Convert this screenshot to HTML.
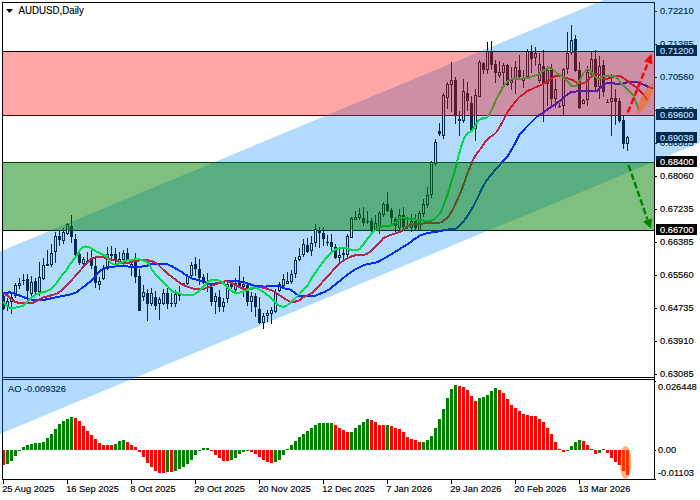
<!DOCTYPE html>
<html lang="en"><head><meta charset="utf-8"><title>AUDUSD Daily</title>
<style>html,body{margin:0;padding:0;background:#fff;}body{width:700px;height:500px;overflow:hidden;}svg{display:block;}text{font-family:"Liberation Sans", Arial, sans-serif;}</style>
</head><body>
<svg width="700" height="500" viewBox="0 0 700 500">
<rect x="0" y="0" width="700" height="500" fill="#fff"/>
<g shape-rendering="crispEdges" fill="#000">
<rect x="2" y="2" width="1" height="478"/>
<rect x="654" y="2" width="1" height="478"/>
<rect x="2" y="2" width="653" height="1"/>
<rect x="2" y="377" width="653" height="1"/>
<rect x="2" y="379" width="653" height="1"/>
<rect x="2" y="479" width="653" height="1"/>
<rect x="2" y="51" width="652" height="1"/>
<rect x="2" y="115" width="652" height="1"/>
<rect x="2" y="162" width="652" height="1"/>
<rect x="2" y="230" width="652" height="1"/>
<rect x="655" y="11" width="2" height="1"/>
<rect x="655" y="44" width="2" height="1"/>
<rect x="655" y="77" width="2" height="1"/>
<rect x="655" y="110" width="2" height="1"/>
<rect x="655" y="143" width="2" height="1"/>
<rect x="655" y="176" width="2" height="1"/>
<rect x="655" y="209" width="2" height="1"/>
<rect x="655" y="242" width="2" height="1"/>
<rect x="655" y="275" width="2" height="1"/>
<rect x="655" y="308" width="2" height="1"/>
<rect x="655" y="341" width="2" height="1"/>
<rect x="655" y="374" width="2" height="1"/>
<rect x="655" y="381" width="1" height="1"/>
<rect x="655" y="450" width="1" height="1"/>
<rect x="655" y="479" width="1" height="1"/>
<rect x="3" y="480" width="1" height="4"/>
<rect x="67" y="480" width="1" height="4"/>
<rect x="131" y="480" width="1" height="4"/>
<rect x="195" y="480" width="1" height="4"/>
<rect x="259" y="480" width="1" height="4"/>
<rect x="323" y="480" width="1" height="4"/>
<rect x="387" y="480" width="1" height="4"/>
<rect x="451" y="480" width="1" height="4"/>
<rect x="515" y="480" width="1" height="4"/>
<rect x="579" y="480" width="1" height="4"/>
</g>
<g shape-rendering="crispEdges">
<rect x="3" y="295" width="1" height="15" fill="#000"/>
<rect x="2" y="296" width="3" height="13" fill="#000"/>
<rect x="7" y="298" width="1" height="13" fill="#000"/>
<rect x="6" y="301" width="3" height="6" fill="#000"/>
<rect x="7" y="302" width="1" height="4" fill="#fff"/>
<rect x="11" y="294" width="1" height="20" fill="#000"/>
<rect x="10" y="297" width="3" height="5" fill="#000"/>
<rect x="11" y="298" width="1" height="3" fill="#fff"/>
<rect x="15" y="283" width="1" height="15" fill="#000"/>
<rect x="14" y="285" width="3" height="11" fill="#000"/>
<rect x="15" y="286" width="1" height="9" fill="#fff"/>
<rect x="19" y="278" width="1" height="11" fill="#000"/>
<rect x="18" y="283" width="3" height="3" fill="#000"/>
<rect x="19" y="284" width="1" height="1" fill="#fff"/>
<rect x="23" y="274" width="1" height="11" fill="#000"/>
<rect x="22" y="280" width="3" height="1" fill="#000"/>
<rect x="27" y="274" width="1" height="24" fill="#000"/>
<rect x="26" y="279" width="3" height="12" fill="#000"/>
<rect x="31" y="276" width="1" height="22" fill="#000"/>
<rect x="30" y="282" width="3" height="12" fill="#000"/>
<rect x="31" y="283" width="1" height="10" fill="#fff"/>
<rect x="35" y="278" width="1" height="16" fill="#000"/>
<rect x="34" y="281" width="3" height="11" fill="#000"/>
<rect x="39" y="262" width="1" height="34" fill="#000"/>
<rect x="38" y="277" width="3" height="15" fill="#000"/>
<rect x="39" y="278" width="1" height="13" fill="#fff"/>
<rect x="43" y="258" width="1" height="22" fill="#000"/>
<rect x="42" y="265" width="3" height="14" fill="#000"/>
<rect x="43" y="266" width="1" height="12" fill="#fff"/>
<rect x="47" y="250" width="1" height="16" fill="#000"/>
<rect x="46" y="264" width="3" height="2" fill="#000"/>
<rect x="51" y="244" width="1" height="23" fill="#000"/>
<rect x="50" y="253" width="3" height="12" fill="#000"/>
<rect x="51" y="254" width="1" height="10" fill="#fff"/>
<rect x="55" y="232" width="1" height="31" fill="#000"/>
<rect x="54" y="236" width="3" height="16" fill="#000"/>
<rect x="55" y="237" width="1" height="14" fill="#fff"/>
<rect x="59" y="231" width="1" height="15" fill="#000"/>
<rect x="58" y="236" width="3" height="4" fill="#000"/>
<rect x="63" y="228" width="1" height="16" fill="#000"/>
<rect x="62" y="232" width="3" height="9" fill="#000"/>
<rect x="63" y="233" width="1" height="7" fill="#fff"/>
<rect x="67" y="223" width="1" height="12" fill="#000"/>
<rect x="66" y="224" width="3" height="10" fill="#000"/>
<rect x="67" y="225" width="1" height="8" fill="#fff"/>
<rect x="71" y="215" width="1" height="28" fill="#000"/>
<rect x="70" y="226" width="3" height="11" fill="#000"/>
<rect x="75" y="234" width="1" height="22" fill="#000"/>
<rect x="74" y="239" width="3" height="16" fill="#000"/>
<rect x="79" y="250" width="1" height="15" fill="#000"/>
<rect x="78" y="254" width="3" height="9" fill="#000"/>
<rect x="83" y="257" width="1" height="9" fill="#000"/>
<rect x="82" y="259" width="3" height="5" fill="#000"/>
<rect x="83" y="260" width="1" height="3" fill="#fff"/>
<rect x="87" y="252" width="1" height="12" fill="#000"/>
<rect x="86" y="261" width="3" height="1" fill="#000"/>
<rect x="91" y="247" width="1" height="22" fill="#000"/>
<rect x="90" y="259" width="3" height="7" fill="#000"/>
<rect x="95" y="258" width="1" height="30" fill="#000"/>
<rect x="94" y="266" width="3" height="17" fill="#000"/>
<rect x="99" y="277" width="1" height="13" fill="#000"/>
<rect x="98" y="281" width="3" height="4" fill="#000"/>
<rect x="99" y="282" width="1" height="2" fill="#fff"/>
<rect x="103" y="265" width="1" height="15" fill="#000"/>
<rect x="102" y="269" width="3" height="10" fill="#000"/>
<rect x="103" y="270" width="1" height="8" fill="#fff"/>
<rect x="107" y="247" width="1" height="23" fill="#000"/>
<rect x="106" y="254" width="3" height="15" fill="#000"/>
<rect x="107" y="255" width="1" height="13" fill="#fff"/>
<rect x="111" y="246" width="1" height="15" fill="#000"/>
<rect x="110" y="254" width="3" height="2" fill="#000"/>
<rect x="115" y="248" width="1" height="16" fill="#000"/>
<rect x="114" y="254" width="3" height="6" fill="#000"/>
<rect x="119" y="252" width="1" height="12" fill="#000"/>
<rect x="118" y="259" width="3" height="5" fill="#000"/>
<rect x="119" y="260" width="1" height="3" fill="#fff"/>
<rect x="123" y="250" width="1" height="11" fill="#000"/>
<rect x="122" y="253" width="3" height="7" fill="#000"/>
<rect x="123" y="254" width="1" height="5" fill="#fff"/>
<rect x="127" y="248" width="1" height="13" fill="#000"/>
<rect x="126" y="253" width="3" height="7" fill="#000"/>
<rect x="131" y="262" width="1" height="14" fill="#000"/>
<rect x="130" y="264" width="3" height="3" fill="#000"/>
<rect x="131" y="265" width="1" height="1" fill="#fff"/>
<rect x="135" y="253" width="1" height="30" fill="#000"/>
<rect x="134" y="262" width="3" height="15" fill="#000"/>
<rect x="139" y="269" width="1" height="42" fill="#000"/>
<rect x="138" y="276" width="3" height="35" fill="#000"/>
<rect x="143" y="285" width="1" height="16" fill="#000"/>
<rect x="142" y="292" width="3" height="5" fill="#000"/>
<rect x="143" y="293" width="1" height="3" fill="#fff"/>
<rect x="147" y="289" width="1" height="32" fill="#000"/>
<rect x="146" y="293" width="3" height="11" fill="#000"/>
<rect x="151" y="288" width="1" height="18" fill="#000"/>
<rect x="150" y="293" width="3" height="11" fill="#000"/>
<rect x="151" y="294" width="1" height="9" fill="#fff"/>
<rect x="155" y="291" width="1" height="19" fill="#000"/>
<rect x="154" y="297" width="3" height="9" fill="#000"/>
<rect x="159" y="297" width="1" height="23" fill="#000"/>
<rect x="158" y="299" width="3" height="5" fill="#000"/>
<rect x="159" y="300" width="1" height="3" fill="#fff"/>
<rect x="163" y="289" width="1" height="16" fill="#000"/>
<rect x="162" y="293" width="3" height="11" fill="#000"/>
<rect x="163" y="294" width="1" height="9" fill="#fff"/>
<rect x="167" y="288" width="1" height="21" fill="#000"/>
<rect x="166" y="293" width="3" height="11" fill="#000"/>
<rect x="171" y="293" width="1" height="14" fill="#000"/>
<rect x="170" y="303" width="3" height="1" fill="#000"/>
<rect x="175" y="290" width="1" height="17" fill="#000"/>
<rect x="174" y="294" width="3" height="10" fill="#000"/>
<rect x="175" y="295" width="1" height="8" fill="#fff"/>
<rect x="179" y="286" width="1" height="15" fill="#000"/>
<rect x="178" y="294" width="3" height="2" fill="#000"/>
<rect x="183" y="283" width="1" height="2" fill="#000"/>
<rect x="182" y="283" width="3" height="2" fill="#000"/>
<rect x="187" y="274" width="1" height="11" fill="#000"/>
<rect x="186" y="276" width="3" height="8" fill="#000"/>
<rect x="187" y="277" width="1" height="6" fill="#fff"/>
<rect x="191" y="262" width="1" height="15" fill="#000"/>
<rect x="190" y="265" width="3" height="11" fill="#000"/>
<rect x="191" y="266" width="1" height="9" fill="#fff"/>
<rect x="195" y="257" width="1" height="19" fill="#000"/>
<rect x="194" y="264" width="3" height="5" fill="#000"/>
<rect x="199" y="259" width="1" height="26" fill="#000"/>
<rect x="198" y="269" width="3" height="9" fill="#000"/>
<rect x="203" y="274" width="1" height="10" fill="#000"/>
<rect x="202" y="277" width="3" height="5" fill="#000"/>
<rect x="207" y="273" width="1" height="19" fill="#000"/>
<rect x="206" y="283" width="3" height="1" fill="#000"/>
<rect x="211" y="283" width="1" height="23" fill="#000"/>
<rect x="210" y="287" width="3" height="15" fill="#000"/>
<rect x="215" y="293" width="1" height="21" fill="#000"/>
<rect x="214" y="296" width="3" height="6" fill="#000"/>
<rect x="215" y="297" width="1" height="4" fill="#fff"/>
<rect x="219" y="290" width="1" height="22" fill="#000"/>
<rect x="218" y="297" width="3" height="10" fill="#000"/>
<rect x="223" y="298" width="1" height="14" fill="#000"/>
<rect x="222" y="302" width="3" height="5" fill="#000"/>
<rect x="223" y="303" width="1" height="3" fill="#fff"/>
<rect x="227" y="282" width="1" height="21" fill="#000"/>
<rect x="226" y="284" width="3" height="15" fill="#000"/>
<rect x="227" y="285" width="1" height="13" fill="#fff"/>
<rect x="231" y="281" width="1" height="8" fill="#000"/>
<rect x="230" y="284" width="3" height="3" fill="#000"/>
<rect x="235" y="278" width="1" height="14" fill="#000"/>
<rect x="234" y="283" width="3" height="7" fill="#000"/>
<rect x="235" y="284" width="1" height="5" fill="#fff"/>
<rect x="239" y="266" width="1" height="21" fill="#000"/>
<rect x="238" y="281" width="3" height="6" fill="#000"/>
<rect x="243" y="277" width="1" height="20" fill="#000"/>
<rect x="242" y="284" width="3" height="3" fill="#000"/>
<rect x="243" y="285" width="1" height="1" fill="#fff"/>
<rect x="247" y="284" width="1" height="22" fill="#000"/>
<rect x="246" y="285" width="3" height="17" fill="#000"/>
<rect x="251" y="292" width="1" height="20" fill="#000"/>
<rect x="250" y="296" width="3" height="6" fill="#000"/>
<rect x="251" y="297" width="1" height="4" fill="#fff"/>
<rect x="255" y="293" width="1" height="24" fill="#000"/>
<rect x="254" y="296" width="3" height="11" fill="#000"/>
<rect x="259" y="297" width="1" height="27" fill="#000"/>
<rect x="258" y="309" width="3" height="14" fill="#000"/>
<rect x="263" y="313" width="1" height="16" fill="#000"/>
<rect x="262" y="316" width="3" height="7" fill="#000"/>
<rect x="263" y="317" width="1" height="5" fill="#fff"/>
<rect x="267" y="310" width="1" height="12" fill="#000"/>
<rect x="266" y="313" width="3" height="3" fill="#000"/>
<rect x="267" y="314" width="1" height="1" fill="#fff"/>
<rect x="271" y="307" width="1" height="17" fill="#000"/>
<rect x="270" y="310" width="3" height="4" fill="#000"/>
<rect x="271" y="311" width="1" height="2" fill="#fff"/>
<rect x="275" y="289" width="1" height="24" fill="#000"/>
<rect x="274" y="292" width="3" height="20" fill="#000"/>
<rect x="275" y="293" width="1" height="18" fill="#fff"/>
<rect x="279" y="282" width="1" height="10" fill="#000"/>
<rect x="278" y="284" width="3" height="7" fill="#000"/>
<rect x="279" y="285" width="1" height="5" fill="#fff"/>
<rect x="283" y="274" width="1" height="13" fill="#000"/>
<rect x="282" y="279" width="3" height="7" fill="#000"/>
<rect x="283" y="280" width="1" height="5" fill="#fff"/>
<rect x="287" y="272" width="1" height="12" fill="#000"/>
<rect x="286" y="281" width="3" height="3" fill="#000"/>
<rect x="287" y="282" width="1" height="1" fill="#fff"/>
<rect x="291" y="270" width="1" height="14" fill="#000"/>
<rect x="290" y="274" width="3" height="8" fill="#000"/>
<rect x="291" y="275" width="1" height="6" fill="#fff"/>
<rect x="295" y="257" width="1" height="21" fill="#000"/>
<rect x="294" y="260" width="3" height="14" fill="#000"/>
<rect x="295" y="261" width="1" height="12" fill="#fff"/>
<rect x="299" y="248" width="1" height="13" fill="#000"/>
<rect x="298" y="256" width="3" height="4" fill="#000"/>
<rect x="299" y="257" width="1" height="2" fill="#fff"/>
<rect x="303" y="239" width="1" height="18" fill="#000"/>
<rect x="302" y="244" width="3" height="11" fill="#000"/>
<rect x="303" y="245" width="1" height="9" fill="#fff"/>
<rect x="307" y="238" width="1" height="15" fill="#000"/>
<rect x="306" y="245" width="3" height="7" fill="#000"/>
<rect x="311" y="236" width="1" height="20" fill="#000"/>
<rect x="310" y="243" width="3" height="8" fill="#000"/>
<rect x="311" y="244" width="1" height="6" fill="#fff"/>
<rect x="315" y="224" width="1" height="23" fill="#000"/>
<rect x="314" y="229" width="3" height="14" fill="#000"/>
<rect x="315" y="230" width="1" height="12" fill="#fff"/>
<rect x="319" y="227" width="1" height="21" fill="#000"/>
<rect x="318" y="230" width="3" height="3" fill="#000"/>
<rect x="323" y="227" width="1" height="19" fill="#000"/>
<rect x="322" y="233" width="3" height="6" fill="#000"/>
<rect x="327" y="235" width="1" height="11" fill="#000"/>
<rect x="326" y="242" width="3" height="1" fill="#000"/>
<rect x="331" y="234" width="1" height="18" fill="#000"/>
<rect x="330" y="242" width="3" height="5" fill="#000"/>
<rect x="335" y="244" width="1" height="15" fill="#000"/>
<rect x="334" y="247" width="3" height="11" fill="#000"/>
<rect x="339" y="247" width="1" height="15" fill="#000"/>
<rect x="338" y="255" width="3" height="3" fill="#000"/>
<rect x="339" y="256" width="1" height="1" fill="#fff"/>
<rect x="343" y="249" width="1" height="10" fill="#000"/>
<rect x="342" y="253" width="3" height="2" fill="#000"/>
<rect x="347" y="234" width="1" height="23" fill="#000"/>
<rect x="346" y="236" width="3" height="19" fill="#000"/>
<rect x="347" y="237" width="1" height="17" fill="#fff"/>
<rect x="351" y="217" width="1" height="21" fill="#000"/>
<rect x="350" y="218" width="3" height="20" fill="#000"/>
<rect x="351" y="219" width="1" height="18" fill="#fff"/>
<rect x="355" y="211" width="1" height="9" fill="#000"/>
<rect x="354" y="217" width="3" height="3" fill="#000"/>
<rect x="355" y="218" width="1" height="1" fill="#fff"/>
<rect x="359" y="208" width="1" height="12" fill="#000"/>
<rect x="358" y="214" width="3" height="4" fill="#000"/>
<rect x="359" y="215" width="1" height="2" fill="#fff"/>
<rect x="363" y="207" width="1" height="19" fill="#000"/>
<rect x="362" y="218" width="3" height="5" fill="#000"/>
<rect x="367" y="211" width="1" height="13" fill="#000"/>
<rect x="366" y="221" width="3" height="1" fill="#000"/>
<rect x="371" y="218" width="1" height="15" fill="#000"/>
<rect x="370" y="221" width="3" height="9" fill="#000"/>
<rect x="375" y="215" width="1" height="16" fill="#000"/>
<rect x="374" y="223" width="3" height="7" fill="#000"/>
<rect x="375" y="224" width="1" height="5" fill="#fff"/>
<rect x="379" y="211" width="1" height="23" fill="#000"/>
<rect x="378" y="213" width="3" height="14" fill="#000"/>
<rect x="379" y="214" width="1" height="12" fill="#fff"/>
<rect x="383" y="202" width="1" height="15" fill="#000"/>
<rect x="382" y="204" width="3" height="11" fill="#000"/>
<rect x="383" y="205" width="1" height="9" fill="#fff"/>
<rect x="387" y="192" width="1" height="20" fill="#000"/>
<rect x="386" y="204" width="3" height="7" fill="#000"/>
<rect x="391" y="208" width="1" height="16" fill="#000"/>
<rect x="390" y="210" width="3" height="8" fill="#000"/>
<rect x="395" y="217" width="1" height="16" fill="#000"/>
<rect x="394" y="219" width="3" height="7" fill="#000"/>
<rect x="399" y="209" width="1" height="22" fill="#000"/>
<rect x="398" y="215" width="3" height="13" fill="#000"/>
<rect x="399" y="216" width="1" height="11" fill="#fff"/>
<rect x="403" y="207" width="1" height="24" fill="#000"/>
<rect x="402" y="215" width="3" height="12" fill="#000"/>
<rect x="407" y="217" width="1" height="12" fill="#000"/>
<rect x="406" y="219" width="3" height="1" fill="#000"/>
<rect x="411" y="214" width="1" height="18" fill="#000"/>
<rect x="410" y="221" width="3" height="7" fill="#000"/>
<rect x="411" y="222" width="1" height="5" fill="#fff"/>
<rect x="415" y="214" width="1" height="17" fill="#000"/>
<rect x="414" y="221" width="3" height="7" fill="#000"/>
<rect x="419" y="211" width="1" height="20" fill="#000"/>
<rect x="418" y="213" width="3" height="18" fill="#000"/>
<rect x="419" y="214" width="1" height="16" fill="#fff"/>
<rect x="423" y="199" width="1" height="18" fill="#000"/>
<rect x="422" y="204" width="3" height="10" fill="#000"/>
<rect x="423" y="205" width="1" height="8" fill="#fff"/>
<rect x="427" y="187" width="1" height="21" fill="#000"/>
<rect x="426" y="195" width="3" height="10" fill="#000"/>
<rect x="427" y="196" width="1" height="8" fill="#fff"/>
<rect x="431" y="161" width="1" height="37" fill="#000"/>
<rect x="430" y="162" width="3" height="33" fill="#000"/>
<rect x="431" y="163" width="1" height="31" fill="#fff"/>
<rect x="435" y="139" width="1" height="27" fill="#000"/>
<rect x="434" y="142" width="3" height="22" fill="#000"/>
<rect x="435" y="143" width="1" height="20" fill="#fff"/>
<rect x="439" y="123" width="1" height="13" fill="#000"/>
<rect x="438" y="131" width="3" height="3" fill="#000"/>
<rect x="443" y="93" width="1" height="46" fill="#000"/>
<rect x="442" y="95" width="3" height="41" fill="#000"/>
<rect x="443" y="96" width="1" height="39" fill="#fff"/>
<rect x="447" y="82" width="1" height="27" fill="#000"/>
<rect x="446" y="84" width="3" height="14" fill="#000"/>
<rect x="447" y="85" width="1" height="12" fill="#fff"/>
<rect x="451" y="62" width="1" height="50" fill="#000"/>
<rect x="450" y="80" width="3" height="5" fill="#000"/>
<rect x="451" y="81" width="1" height="3" fill="#fff"/>
<rect x="455" y="77" width="1" height="47" fill="#000"/>
<rect x="454" y="80" width="3" height="36" fill="#000"/>
<rect x="459" y="111" width="1" height="25" fill="#000"/>
<rect x="458" y="119" width="3" height="2" fill="#000"/>
<rect x="463" y="79" width="1" height="44" fill="#000"/>
<rect x="462" y="91" width="3" height="30" fill="#000"/>
<rect x="463" y="92" width="1" height="28" fill="#fff"/>
<rect x="467" y="82" width="1" height="29" fill="#000"/>
<rect x="466" y="93" width="3" height="8" fill="#000"/>
<rect x="471" y="96" width="1" height="35" fill="#000"/>
<rect x="470" y="103" width="3" height="27" fill="#000"/>
<rect x="475" y="89" width="1" height="52" fill="#000"/>
<rect x="474" y="95" width="3" height="34" fill="#000"/>
<rect x="475" y="96" width="1" height="32" fill="#fff"/>
<rect x="479" y="60" width="1" height="37" fill="#000"/>
<rect x="478" y="62" width="3" height="35" fill="#000"/>
<rect x="479" y="63" width="1" height="33" fill="#fff"/>
<rect x="483" y="62" width="1" height="12" fill="#000"/>
<rect x="482" y="63" width="3" height="7" fill="#000"/>
<rect x="487" y="42" width="1" height="32" fill="#000"/>
<rect x="486" y="51" width="3" height="19" fill="#000"/>
<rect x="487" y="52" width="1" height="17" fill="#fff"/>
<rect x="491" y="41" width="1" height="29" fill="#000"/>
<rect x="490" y="51" width="3" height="14" fill="#000"/>
<rect x="495" y="60" width="1" height="23" fill="#000"/>
<rect x="494" y="64" width="3" height="9" fill="#000"/>
<rect x="499" y="61" width="1" height="17" fill="#000"/>
<rect x="498" y="72" width="3" height="4" fill="#000"/>
<rect x="499" y="73" width="1" height="2" fill="#fff"/>
<rect x="503" y="63" width="1" height="25" fill="#000"/>
<rect x="502" y="65" width="3" height="8" fill="#000"/>
<rect x="503" y="66" width="1" height="6" fill="#fff"/>
<rect x="507" y="64" width="1" height="22" fill="#000"/>
<rect x="506" y="65" width="3" height="20" fill="#000"/>
<rect x="511" y="67" width="1" height="23" fill="#000"/>
<rect x="510" y="80" width="3" height="3" fill="#000"/>
<rect x="511" y="81" width="1" height="1" fill="#fff"/>
<rect x="515" y="61" width="1" height="33" fill="#000"/>
<rect x="514" y="67" width="3" height="12" fill="#000"/>
<rect x="515" y="68" width="1" height="10" fill="#fff"/>
<rect x="519" y="55" width="1" height="24" fill="#000"/>
<rect x="518" y="70" width="3" height="7" fill="#000"/>
<rect x="523" y="70" width="1" height="18" fill="#000"/>
<rect x="522" y="78" width="3" height="3" fill="#000"/>
<rect x="523" y="79" width="1" height="1" fill="#fff"/>
<rect x="527" y="49" width="1" height="29" fill="#000"/>
<rect x="526" y="51" width="3" height="26" fill="#000"/>
<rect x="527" y="52" width="1" height="24" fill="#fff"/>
<rect x="531" y="45" width="1" height="28" fill="#000"/>
<rect x="530" y="51" width="3" height="8" fill="#000"/>
<rect x="535" y="47" width="1" height="19" fill="#000"/>
<rect x="534" y="53" width="3" height="5" fill="#000"/>
<rect x="535" y="54" width="1" height="3" fill="#fff"/>
<rect x="539" y="53" width="1" height="30" fill="#000"/>
<rect x="538" y="64" width="3" height="17" fill="#000"/>
<rect x="539" y="65" width="1" height="15" fill="#fff"/>
<rect x="543" y="50" width="1" height="72" fill="#000"/>
<rect x="542" y="66" width="3" height="17" fill="#000"/>
<rect x="547" y="66" width="1" height="40" fill="#000"/>
<rect x="546" y="70" width="3" height="14" fill="#000"/>
<rect x="547" y="71" width="1" height="12" fill="#fff"/>
<rect x="551" y="64" width="1" height="44" fill="#000"/>
<rect x="550" y="70" width="3" height="29" fill="#000"/>
<rect x="555" y="79" width="1" height="29" fill="#000"/>
<rect x="554" y="89" width="3" height="10" fill="#000"/>
<rect x="555" y="90" width="1" height="8" fill="#fff"/>
<rect x="559" y="103" width="1" height="5" fill="#000"/>
<rect x="558" y="106" width="3" height="1" fill="#000"/>
<rect x="563" y="68" width="1" height="48" fill="#000"/>
<rect x="562" y="69" width="3" height="37" fill="#000"/>
<rect x="563" y="70" width="1" height="35" fill="#fff"/>
<rect x="567" y="32" width="1" height="42" fill="#000"/>
<rect x="566" y="53" width="3" height="16" fill="#000"/>
<rect x="567" y="54" width="1" height="14" fill="#fff"/>
<rect x="571" y="25" width="1" height="30" fill="#000"/>
<rect x="570" y="40" width="3" height="13" fill="#000"/>
<rect x="571" y="41" width="1" height="11" fill="#fff"/>
<rect x="575" y="35" width="1" height="37" fill="#000"/>
<rect x="574" y="39" width="3" height="32" fill="#000"/>
<rect x="579" y="62" width="1" height="47" fill="#000"/>
<rect x="578" y="70" width="3" height="38" fill="#000"/>
<rect x="583" y="99" width="1" height="5" fill="#000"/>
<rect x="582" y="100" width="3" height="4" fill="#000"/>
<rect x="583" y="101" width="1" height="2" fill="#fff"/>
<rect x="587" y="66" width="1" height="40" fill="#000"/>
<rect x="586" y="72" width="3" height="28" fill="#000"/>
<rect x="587" y="73" width="1" height="26" fill="#fff"/>
<rect x="591" y="52" width="1" height="23" fill="#000"/>
<rect x="590" y="59" width="3" height="15" fill="#000"/>
<rect x="591" y="60" width="1" height="13" fill="#fff"/>
<rect x="595" y="50" width="1" height="41" fill="#000"/>
<rect x="594" y="59" width="3" height="28" fill="#000"/>
<rect x="599" y="56" width="1" height="43" fill="#000"/>
<rect x="598" y="66" width="3" height="21" fill="#000"/>
<rect x="599" y="67" width="1" height="19" fill="#fff"/>
<rect x="603" y="60" width="1" height="37" fill="#000"/>
<rect x="602" y="65" width="3" height="27" fill="#000"/>
<rect x="607" y="99" width="1" height="3" fill="#000"/>
<rect x="606" y="102" width="3" height="1" fill="#000"/>
<rect x="611" y="74" width="1" height="62" fill="#000"/>
<rect x="610" y="98" width="3" height="4" fill="#000"/>
<rect x="611" y="99" width="1" height="2" fill="#fff"/>
<rect x="615" y="89" width="1" height="36" fill="#000"/>
<rect x="614" y="98" width="3" height="4" fill="#000"/>
<rect x="619" y="98" width="1" height="25" fill="#000"/>
<rect x="618" y="101" width="3" height="20" fill="#000"/>
<rect x="623" y="116" width="1" height="33" fill="#000"/>
<rect x="622" y="120" width="3" height="24" fill="#000"/>
<rect x="627" y="136" width="1" height="15" fill="#000"/>
<rect x="626" y="137" width="3" height="7" fill="#000"/>
<rect x="627" y="138" width="1" height="5" fill="#fff"/>
</g>
<g clip-path="url(#cpm)" shape-rendering="crispEdges">
<clipPath id="cpm"><rect x="3" y="3" width="651" height="374"/></clipPath>
<polyline points="3.0,292.9 10.0,292.4 14.0,293.3 20.0,295.7 27.0,298.6 33.0,300.0 43.0,300.0 50.0,298.6 57.0,297.1 64.0,295.7 71.0,294.3 76.0,292.6 81.0,288.6 86.0,285.0 93.0,279.3 97.0,274.5 99.3,271.4 103.6,268.6 107.9,267.1 116.4,266.4 123.6,265.7 129.3,266.7 137.9,266.7 145.0,266.4 150.7,264.3 157.9,263.6 166.4,263.9 172.1,266.4 180.7,271.4 187.9,276.4 192.1,278.5 195.7,279.4 202.9,281.6 208.6,283.7 214.3,283.7 221.4,282.6 227.1,280.9 235.7,280.9 244.3,282.3 250.0,284.4 255.7,285.9 264.3,286.6 271.4,286.3 277.1,286.0 280.0,286.5 285.0,288.5 290.0,289.5 293.0,291.5 296.0,294.0 299.0,295.8 305.0,296.0 315.0,296.0 319.0,294.0 324.0,292.2 329.0,289.5 334.0,285.5 339.0,281.5 345.0,276.6 350.7,272.3 356.4,268.7 362.1,265.9 367.9,264.0 373.6,263.0 377.9,262.0 382.1,259.4 385.0,258.0 395.0,252.0 409.3,243.0 414.3,239.1 420.0,235.6 425.7,233.6 431.4,232.4 437.1,231.6 444.0,230.2 451.0,228.9 456.0,228.5 459.0,226.4 462.0,223.3 465.0,219.5 470.0,212.0 474.0,205.0 478.0,197.0 482.0,188.5 486.0,181.0 492.1,173.6 497.9,167.1 502.1,162.1 507.9,155.7 512.1,148.6 515.0,143.6 520.0,133.6 525.7,127.9 531.4,122.1 537.1,116.4 542.9,112.9 548.6,108.6 554.3,105.0 560.0,100.7 565.7,95.7 571.4,92.1 577.1,91.4 582.9,90.7 588.6,91.4 597.1,91.2 601.0,87.5 606.0,83.5 611.0,82.5 616.0,84.0 621.0,84.5 625.0,83.0 630.0,81.5 638.0,82.5 643.0,84.5 650.0,87.5 653.0,88.2" fill="none" stroke="#0000ff" stroke-width="2" stroke-linejoin="round" stroke-linecap="butt"/>
<polyline points="3.0,293.6 7.0,295.0 11.0,298.6 15.0,302.1 20.0,302.9 27.0,302.9 33.0,302.9 37.0,300.7 43.0,297.6 50.0,295.7 57.0,293.6 62.0,290.0 67.0,285.0 71.0,280.7 77.0,274.3 83.0,267.1 88.0,262.1 92.0,257.8 100.0,257.0 102.1,257.1 109.3,258.6 116.4,260.7 123.6,263.6 128.0,262.9 133.6,261.4 139.3,260.4 145.0,259.6 152.1,261.4 156.4,262.9 162.1,268.6 169.3,275.0 175.0,279.3 180.7,283.6 186.4,286.4 192.1,288.3 195.7,289.1 201.4,289.4 207.1,288.0 212.9,285.1 218.6,283.4 225.7,281.1 231.4,283.0 237.1,285.9 242.9,288.7 248.6,289.7 254.3,288.0 261.4,287.3 267.1,288.7 272.9,290.9 275.0,292.0 280.0,295.5 285.0,299.0 290.0,301.5 294.0,302.0 299.0,300.5 303.0,297.5 308.0,295.0 312.0,293.0 317.0,288.0 322.0,282.5 327.0,277.0 332.0,271.5 337.0,266.0 343.6,260.1 349.3,257.3 355.0,255.4 360.7,254.9 365.7,254.4 370.7,251.6 376.4,245.9 380.7,241.6 382.9,238.4 388.6,235.6 394.3,233.7 400.0,232.0 404.3,229.1 408.6,225.6 412.9,224.1 420.0,224.1 425.7,223.1 432.9,222.7 441.0,222.5 445.0,219.5 449.0,216.0 453.0,209.0 457.0,200.5 461.0,191.5 464.5,182.0 467.1,174.3 470.0,167.1 472.9,160.0 476.4,154.3 480.7,148.6 485.0,142.1 488.6,137.9 493.6,135.0 497.1,131.4 500.7,125.0 504.3,118.6 507.9,111.4 515.7,101.0 520.0,96.4 524.3,93.6 527.1,91.2 534.3,87.9 541.4,85.0 548.6,80.7 555.7,75.7 561.4,76.4 567.1,78.3 572.9,80.0 577.1,82.9 582.9,83.6 587.1,81.4 590.0,77.5 594.0,74.0 599.0,74.5 603.0,78.5 608.0,78.5 613.0,77.0 617.0,75.5 622.0,77.0 627.0,80.5 632.0,84.5 638.0,88.5 643.0,94.0 647.5,100.5" fill="none" stroke="#ff0000" stroke-width="2" stroke-linejoin="round" stroke-linecap="butt"/>
<polyline points="3.0,301.4 6.0,305.0 10.0,307.9 14.0,307.9 19.0,306.7 23.0,305.7 27.0,302.1 31.0,297.9 35.0,295.0 40.0,292.9 46.0,291.4 51.0,289.3 56.0,283.6 60.0,277.9 66.0,270.7 71.0,262.9 77.0,255.3 80.0,250.0 83.0,247.1 86.0,246.4 90.0,247.6 95.0,251.0 100.7,253.6 106.4,256.4 110.7,262.9 115.0,265.0 120.0,262.9 125.0,260.7 130.7,260.0 137.9,258.9 143.6,260.7 148.6,262.9 152.1,270.0 157.9,277.1 163.6,282.9 167.9,286.4 172.1,291.4 177.9,292.9 183.6,295.0 190.0,295.1 194.3,294.4 198.6,291.6 202.9,287.3 207.1,282.3 211.4,280.1 217.1,279.7 221.4,281.6 225.7,285.9 230.0,290.1 235.7,293.0 241.4,292.3 247.1,290.1 252.9,287.3 257.1,288.3 262.9,291.6 268.6,295.9 274.3,301.6 279.0,305.5 283.0,306.8 286.0,306.2 290.0,303.0 295.0,298.5 300.0,293.5 305.0,288.0 308.0,285.0 311.0,279.0 315.0,273.0 320.0,265.9 325.0,259.4 330.0,253.7 335.0,249.7 340.0,247.7 345.0,247.7 350.0,249.7 355.0,250.0 359.3,249.4 362.9,245.1 367.9,238.0 372.9,232.3 377.9,227.7 382.9,226.3 390.0,226.0 394.3,223.4 398.6,219.1 402.1,217.7 407.1,218.9 414.3,219.4 420.0,219.9 425.7,220.9 431.4,220.6 434.0,219.5 440.0,213.5 443.0,207.0 446.0,199.0 449.0,190.0 451.5,181.0 454.3,172.9 456.4,165.0 457.9,158.6 460.0,150.7 462.1,143.6 464.3,137.9 467.1,133.6 472.1,130.7 475.0,125.7 478.6,120.3 482.1,118.6 487.1,117.4 489.0,115.2 492.0,109.0 495.0,102.3 498.6,95.0 502.9,87.0 507.1,81.6 511.4,79.3 518.6,79.3 524.3,77.9 528.6,77.9 534.3,75.7 538.6,74.3 542.9,70.7 548.6,67.9 552.9,69.3 557.1,73.6 562.9,77.1 567.1,81.4 571.4,85.7 576.4,85.7 580.0,80.0 583.6,72.9 587.1,69.3 590.0,70.0 594.0,76.0 599.0,79.0 604.0,76.0 610.0,75.8 615.0,76.0 619.0,80.5 623.0,85.0 627.0,89.0 633.0,95.0 639.0,109.5" fill="none" stroke="#00ff00" stroke-width="2" stroke-linejoin="round" stroke-linecap="butt"/>
</g>
<g shape-rendering="crispEdges">
<rect x="3" y="450" width="2" height="15" fill="#ff0000"/>
<rect x="6" y="450" width="3" height="14" fill="#008000"/>
<rect x="10" y="450" width="3" height="11" fill="#008000"/>
<rect x="14" y="450" width="3" height="6" fill="#008000"/>
<rect x="18" y="450" width="3" height="1" fill="#008000"/>
<rect x="22" y="447" width="3" height="3" fill="#008000"/>
<rect x="26" y="445" width="3" height="5" fill="#008000"/>
<rect x="30" y="444" width="3" height="6" fill="#008000"/>
<rect x="34" y="443" width="3" height="7" fill="#008000"/>
<rect x="38" y="443" width="3" height="7" fill="#008000"/>
<rect x="42" y="442" width="3" height="8" fill="#008000"/>
<rect x="46" y="438" width="3" height="12" fill="#008000"/>
<rect x="50" y="434" width="3" height="16" fill="#008000"/>
<rect x="54" y="429" width="3" height="21" fill="#008000"/>
<rect x="58" y="424" width="3" height="26" fill="#008000"/>
<rect x="62" y="421" width="3" height="29" fill="#008000"/>
<rect x="66" y="419" width="3" height="31" fill="#008000"/>
<rect x="70" y="417" width="3" height="33" fill="#008000"/>
<rect x="74" y="418" width="3" height="32" fill="#ff0000"/>
<rect x="78" y="421" width="3" height="29" fill="#ff0000"/>
<rect x="82" y="426" width="3" height="24" fill="#ff0000"/>
<rect x="86" y="431" width="3" height="19" fill="#ff0000"/>
<rect x="90" y="435" width="3" height="15" fill="#ff0000"/>
<rect x="94" y="439" width="3" height="11" fill="#ff0000"/>
<rect x="98" y="443" width="3" height="7" fill="#ff0000"/>
<rect x="102" y="445" width="3" height="5" fill="#ff0000"/>
<rect x="106" y="445" width="3" height="5" fill="#ff0000"/>
<rect x="110" y="445" width="3" height="5" fill="#ff0000"/>
<rect x="114" y="444" width="3" height="6" fill="#008000"/>
<rect x="118" y="441" width="3" height="9" fill="#008000"/>
<rect x="122" y="440" width="3" height="10" fill="#008000"/>
<rect x="126" y="442" width="3" height="8" fill="#ff0000"/>
<rect x="130" y="445" width="3" height="5" fill="#ff0000"/>
<rect x="134" y="447" width="3" height="3" fill="#ff0000"/>
<rect x="138" y="450" width="3" height="2" fill="#ff0000"/>
<rect x="142" y="450" width="3" height="7" fill="#ff0000"/>
<rect x="146" y="450" width="3" height="13" fill="#ff0000"/>
<rect x="150" y="450" width="3" height="17" fill="#ff0000"/>
<rect x="154" y="450" width="3" height="21" fill="#ff0000"/>
<rect x="158" y="450" width="3" height="23" fill="#ff0000"/>
<rect x="162" y="450" width="3" height="23" fill="#ff0000"/>
<rect x="166" y="450" width="3" height="22" fill="#008000"/>
<rect x="170" y="450" width="3" height="22" fill="#ff0000"/>
<rect x="174" y="450" width="3" height="21" fill="#008000"/>
<rect x="178" y="450" width="3" height="19" fill="#008000"/>
<rect x="182" y="450" width="3" height="17" fill="#008000"/>
<rect x="186" y="450" width="3" height="14" fill="#008000"/>
<rect x="190" y="450" width="3" height="10" fill="#008000"/>
<rect x="194" y="450" width="3" height="5" fill="#008000"/>
<rect x="198" y="450" width="3" height="1" fill="#008000"/>
<rect x="202" y="448" width="3" height="2" fill="#008000"/>
<rect x="206" y="448" width="3" height="2" fill="#008000"/>
<rect x="210" y="450" width="3" height="1" fill="#ff0000"/>
<rect x="214" y="450" width="3" height="5" fill="#ff0000"/>
<rect x="218" y="450" width="3" height="8" fill="#ff0000"/>
<rect x="222" y="450" width="3" height="11" fill="#ff0000"/>
<rect x="226" y="450" width="3" height="11" fill="#ff0000"/>
<rect x="230" y="450" width="3" height="10" fill="#008000"/>
<rect x="234" y="450" width="3" height="8" fill="#008000"/>
<rect x="238" y="450" width="3" height="4" fill="#008000"/>
<rect x="242" y="450" width="3" height="2" fill="#008000"/>
<rect x="246" y="450" width="3" height="1" fill="#008000"/>
<rect x="250" y="450" width="3" height="2" fill="#ff0000"/>
<rect x="254" y="450" width="3" height="4" fill="#ff0000"/>
<rect x="258" y="450" width="3" height="7" fill="#ff0000"/>
<rect x="262" y="450" width="3" height="10" fill="#ff0000"/>
<rect x="266" y="450" width="3" height="12" fill="#ff0000"/>
<rect x="270" y="450" width="3" height="13" fill="#ff0000"/>
<rect x="274" y="450" width="3" height="12" fill="#008000"/>
<rect x="278" y="450" width="3" height="10" fill="#008000"/>
<rect x="282" y="450" width="3" height="5" fill="#008000"/>
<rect x="286" y="449" width="3" height="1" fill="#008000"/>
<rect x="290" y="445" width="3" height="5" fill="#008000"/>
<rect x="294" y="441" width="3" height="9" fill="#008000"/>
<rect x="298" y="437" width="3" height="13" fill="#008000"/>
<rect x="302" y="434" width="3" height="16" fill="#008000"/>
<rect x="306" y="431" width="3" height="19" fill="#008000"/>
<rect x="310" y="428" width="3" height="22" fill="#008000"/>
<rect x="314" y="425" width="3" height="25" fill="#008000"/>
<rect x="318" y="423" width="3" height="27" fill="#008000"/>
<rect x="322" y="423" width="3" height="27" fill="#008000"/>
<rect x="326" y="423" width="3" height="27" fill="#008000"/>
<rect x="330" y="423" width="3" height="27" fill="#008000"/>
<rect x="334" y="425" width="3" height="25" fill="#ff0000"/>
<rect x="338" y="428" width="3" height="22" fill="#ff0000"/>
<rect x="342" y="430" width="3" height="20" fill="#ff0000"/>
<rect x="346" y="432" width="3" height="18" fill="#ff0000"/>
<rect x="350" y="432" width="3" height="18" fill="#008000"/>
<rect x="354" y="428" width="3" height="22" fill="#008000"/>
<rect x="358" y="425" width="3" height="25" fill="#008000"/>
<rect x="362" y="422" width="3" height="28" fill="#008000"/>
<rect x="366" y="419" width="3" height="31" fill="#008000"/>
<rect x="370" y="420" width="3" height="30" fill="#ff0000"/>
<rect x="374" y="422" width="3" height="28" fill="#ff0000"/>
<rect x="378" y="425" width="3" height="25" fill="#ff0000"/>
<rect x="382" y="425" width="3" height="25" fill="#ff0000"/>
<rect x="386" y="425" width="3" height="25" fill="#008000"/>
<rect x="390" y="426" width="3" height="24" fill="#ff0000"/>
<rect x="394" y="428" width="3" height="22" fill="#ff0000"/>
<rect x="398" y="429" width="3" height="21" fill="#ff0000"/>
<rect x="402" y="432" width="3" height="18" fill="#ff0000"/>
<rect x="406" y="437" width="3" height="13" fill="#ff0000"/>
<rect x="410" y="439" width="3" height="11" fill="#ff0000"/>
<rect x="414" y="440" width="3" height="10" fill="#ff0000"/>
<rect x="418" y="442" width="3" height="8" fill="#ff0000"/>
<rect x="422" y="442" width="3" height="8" fill="#008000"/>
<rect x="426" y="440" width="3" height="10" fill="#008000"/>
<rect x="430" y="436" width="3" height="14" fill="#008000"/>
<rect x="434" y="428" width="3" height="22" fill="#008000"/>
<rect x="438" y="419" width="3" height="31" fill="#008000"/>
<rect x="442" y="409" width="3" height="41" fill="#008000"/>
<rect x="446" y="398" width="3" height="52" fill="#008000"/>
<rect x="450" y="389" width="3" height="61" fill="#008000"/>
<rect x="454" y="385" width="3" height="65" fill="#008000"/>
<rect x="458" y="386" width="3" height="64" fill="#ff0000"/>
<rect x="462" y="387" width="3" height="63" fill="#ff0000"/>
<rect x="466" y="390" width="3" height="60" fill="#ff0000"/>
<rect x="470" y="396" width="3" height="54" fill="#ff0000"/>
<rect x="474" y="401" width="3" height="49" fill="#ff0000"/>
<rect x="478" y="398" width="3" height="52" fill="#008000"/>
<rect x="482" y="397" width="3" height="53" fill="#008000"/>
<rect x="486" y="395" width="3" height="55" fill="#008000"/>
<rect x="490" y="391" width="3" height="59" fill="#008000"/>
<rect x="494" y="388" width="3" height="62" fill="#008000"/>
<rect x="498" y="390" width="3" height="60" fill="#ff0000"/>
<rect x="502" y="393" width="3" height="57" fill="#ff0000"/>
<rect x="506" y="399" width="3" height="51" fill="#ff0000"/>
<rect x="510" y="405" width="3" height="45" fill="#ff0000"/>
<rect x="514" y="408" width="3" height="42" fill="#ff0000"/>
<rect x="518" y="411" width="3" height="39" fill="#ff0000"/>
<rect x="522" y="414" width="3" height="36" fill="#ff0000"/>
<rect x="526" y="415" width="3" height="35" fill="#ff0000"/>
<rect x="530" y="416" width="3" height="34" fill="#ff0000"/>
<rect x="534" y="416" width="3" height="34" fill="#ff0000"/>
<rect x="538" y="419" width="3" height="31" fill="#ff0000"/>
<rect x="542" y="422" width="3" height="28" fill="#ff0000"/>
<rect x="546" y="428" width="3" height="22" fill="#ff0000"/>
<rect x="550" y="434" width="3" height="16" fill="#ff0000"/>
<rect x="554" y="442" width="3" height="8" fill="#ff0000"/>
<rect x="558" y="449" width="3" height="1" fill="#ff0000"/>
<rect x="562" y="450" width="3" height="2" fill="#ff0000"/>
<rect x="566" y="450" width="3" height="1" fill="#008000"/>
<rect x="570" y="446" width="3" height="4" fill="#008000"/>
<rect x="574" y="442" width="3" height="8" fill="#008000"/>
<rect x="578" y="440" width="3" height="10" fill="#008000"/>
<rect x="582" y="441" width="3" height="9" fill="#ff0000"/>
<rect x="586" y="445" width="3" height="5" fill="#ff0000"/>
<rect x="590" y="449" width="3" height="1" fill="#ff0000"/>
<rect x="594" y="450" width="3" height="4" fill="#ff0000"/>
<rect x="598" y="450" width="3" height="3" fill="#008000"/>
<rect x="602" y="449" width="3" height="1" fill="#008000"/>
<rect x="606" y="450" width="3" height="3" fill="#ff0000"/>
<rect x="610" y="450" width="3" height="8" fill="#ff0000"/>
<rect x="614" y="450" width="3" height="12" fill="#ff0000"/>
<rect x="618" y="450" width="3" height="15" fill="#ff0000"/>
<rect x="622" y="450" width="3" height="21" fill="#ff0000"/>
<rect x="626" y="450" width="3" height="25" fill="#ff0000"/>
</g>
<g font-size="9.3px" fill="#000" stroke="#000" stroke-width="0.15">
<text x="660" y="14.3">0.72210</text>
<text x="660" y="47.3">0.71385</text>
<text x="660" y="80.3">0.70560</text>
<text x="660" y="113.3">0.69710</text>
<text x="660" y="146.3">0.68885</text>
<text x="660" y="179.3">0.68060</text>
<text x="660" y="212.3">0.67235</text>
<text x="660" y="245.3">0.66385</text>
<text x="660" y="278.3">0.65560</text>
<text x="660" y="311.3">0.64735</text>
<text x="660" y="344.3">0.63910</text>
<text x="660" y="377.3">0.63085</text>
<text x="658" y="389.7">0.026448</text>
<text x="658" y="453.3">0.00</text>
<text x="658" y="475.7">-0.01103</text>
<text x="2.2" y="492">25 Aug 2025</text>
<text x="66.2" y="492">16 Sep 2025</text>
<text x="130.2" y="492">8 Oct 2025</text>
<text x="194.2" y="492">29 Oct 2025</text>
<text x="258.2" y="492">20 Nov 2025</text>
<text x="322.2" y="492">12 Dec 2025</text>
<text x="386.2" y="492">7 Jan 2026</text>
<text x="450.2" y="492">29 Jan 2026</text>
<text x="514.2" y="492">20 Feb 2026</text>
<text x="578.2" y="492">13 Mar 2026</text>
<text x="8" y="392">AO -0.009326</text>
</g>
<text x="18.6" y="14" font-size="10px" fill="#000" stroke="#000" stroke-width="0.15" textLength="65.2" lengthAdjust="spacingAndGlyphs">AUDUSD,Daily</text>
<polygon points="6,9 13,9 9.5,13" fill="#000"/>
<g shape-rendering="crispEdges">
<rect x="656" y="45" width="41" height="11" fill="#000"/>
<rect x="656" y="109" width="41" height="11" fill="#000"/>
<rect x="656" y="132" width="41" height="11" fill="#000"/>
<rect x="656" y="156" width="41" height="11" fill="#000"/>
<rect x="656" y="224" width="41" height="11" fill="#000"/>
</g>
<g font-size="9.3px" fill="#fff" stroke="#fff" stroke-width="0.15">
<text x="660" y="53.6">0.71200</text>
<text x="660" y="117.6">0.69600</text>
<text x="660" y="140.6">0.69038</text>
<text x="660" y="164.6">0.68400</text>
<text x="660" y="232.6">0.66700</text>
</g>
<polygon points="0,251.4 603.5,0 700,0 700,142.5 0,434" fill="rgb(0,140,255)" fill-opacity="0.3"/>
<rect x="3" y="52" width="652" height="64" fill="rgb(255,0,0)" fill-opacity="0.35" shape-rendering="crispEdges"/>
<rect x="3" y="162" width="651" height="68" fill="rgb(0,128,0)" fill-opacity="0.5" shape-rendering="crispEdges"/>
<clipPath id="cpe"><rect x="3" y="3" width="652" height="374"/></clipPath>
<g clip-path="url(#cpe)"><ellipse cx="645.3" cy="99" rx="16.4" ry="4.1" transform="rotate(-63 645.3 99)" fill="rgb(255,102,0)" fill-opacity="0.5"/></g>
<ellipse cx="625.5" cy="462.4" rx="5.8" ry="16.5" fill="rgb(255,102,0)" fill-opacity="0.5"/>
<line x1="627.8" y1="112.5" x2="647.3" y2="64.5" stroke="#ff0000" stroke-width="2.4" stroke-dasharray="6.5 2.6"/>
<polygon points="651.5,54 644,61.2 652.6,64.6" fill="#ff0000"/>
<line x1="628.5" y1="165" x2="647.5" y2="219.5" stroke="#008000" stroke-width="2.4" stroke-dasharray="6.5 2.6"/>
<polygon points="651,228.5 643,221.5 652,218.5" fill="#008000"/>
</svg></body></html>
